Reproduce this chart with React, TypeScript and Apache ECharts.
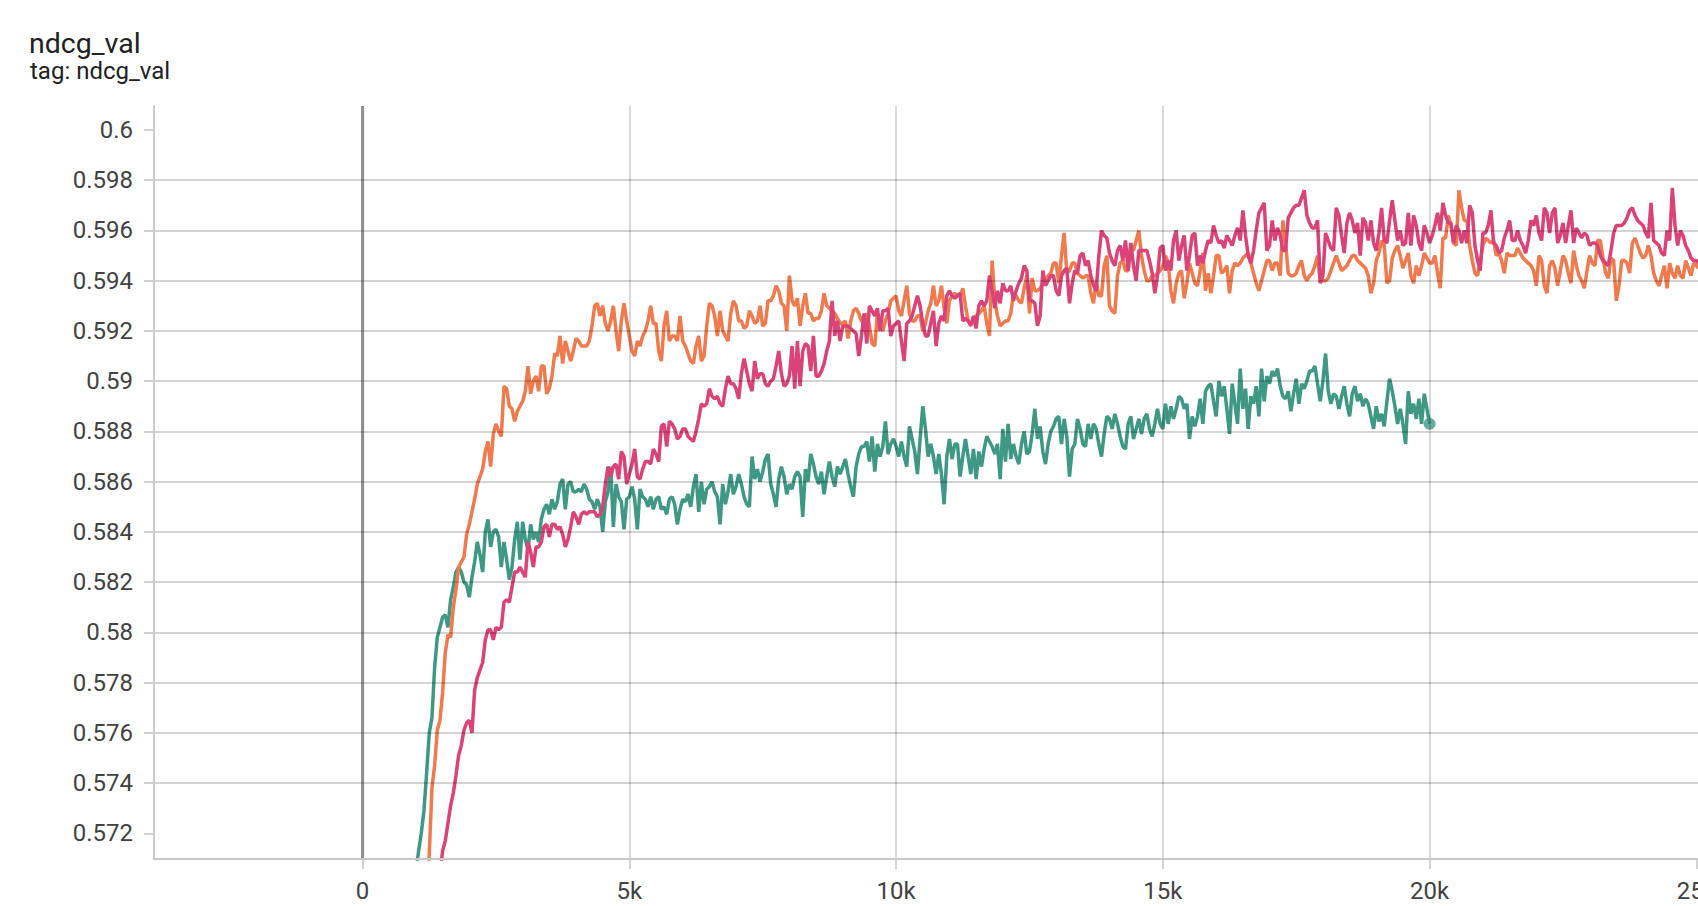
import React, { useEffect, useRef } from "react";
import * as echarts from "echarts";

const TITLE = "ndcg_val";
const SUBTITLE = "tag: ndcg_val";

const X_TICKS = [0, 5000, 10000, 15000, 20000, 25000];
const X_TICK_LABELS = ["0", "5k", "10k", "15k", "20k", "25k"];
const Y_TICKS = [0.572, 0.574, 0.576, 0.578, 0.58, 0.582, 0.584, 0.586, 0.588, 0.59, 0.592, 0.594, 0.596, 0.598, 0.6];
const X_MIN = -3910;
const X_MAX = 25031;
const Y_MIN = 0.570977;
const Y_MAX = 0.600955;
const ZERO_STEP = 0;

// teal run: step 1000 .. 20000, every 50 steps
const TEAL_START = 1000;
const TEAL_STEP = 50;
const TEAL_VALUES = [
  0.5705, 0.5713, 0.5720, 0.5729, 0.5744, 0.5760, 0.5766, 0.5786, 0.5798, 0.5802,
  0.5806, 0.5807, 0.5802, 0.5813, 0.5818, 0.5824, 0.5826, 0.5824, 0.5820, 0.5819,
  0.5814, 0.5822, 0.5828, 0.5836, 0.5831, 0.5824, 0.5840, 0.5845, 0.5834, 0.5840,
  0.5841, 0.5838, 0.5826, 0.5836, 0.5829, 0.5821, 0.5826, 0.5837, 0.5844, 0.5829,
  0.5844, 0.5837, 0.5833, 0.5843, 0.5837, 0.5840, 0.5836, 0.5845, 0.5849, 0.5851,
  0.5847, 0.5853, 0.5849, 0.5852, 0.5859, 0.5861, 0.5849, 0.5859, 0.5860, 0.5856,
  0.5856, 0.5857, 0.5856, 0.5859, 0.5857, 0.5853, 0.5852, 0.5849, 0.5853, 0.5850,
  0.5840, 0.5852, 0.5856, 0.5866, 0.5842, 0.5859, 0.5854, 0.5852, 0.5841, 0.5853,
  0.5854, 0.5858, 0.5853, 0.5841, 0.5857, 0.5854, 0.5853, 0.5850, 0.5854, 0.5849,
  0.5853, 0.5854, 0.5849, 0.5850, 0.5847, 0.5853, 0.5854, 0.5851, 0.5843, 0.5849,
  0.5853, 0.5852, 0.5855, 0.5850, 0.5858, 0.5863, 0.5848, 0.5860, 0.5851, 0.5857,
  0.5858, 0.5860, 0.5856, 0.5854, 0.5843, 0.5859, 0.5851, 0.5856, 0.5863, 0.5855,
  0.5858, 0.5863, 0.5859, 0.5854, 0.5851, 0.5850, 0.5870, 0.5861, 0.5865, 0.5860,
  0.5864, 0.5869, 0.5871, 0.5859, 0.5855, 0.5850, 0.5861, 0.5866, 0.5862, 0.5855,
  0.5859, 0.5857, 0.5862, 0.5864, 0.5862, 0.5846, 0.5865, 0.5860, 0.5871, 0.5867,
  0.5862, 0.5859, 0.5864, 0.5855, 0.5862, 0.5868, 0.5862, 0.5858, 0.5866, 0.5863,
  0.5866, 0.5869, 0.5863, 0.5858, 0.5854, 0.5866, 0.5871, 0.5874, 0.5874, 0.5876,
  0.5868, 0.5878, 0.5864, 0.5875, 0.5870, 0.5874, 0.5884, 0.5871, 0.5875, 0.5877,
  0.5874, 0.5870, 0.5876, 0.5870, 0.5866, 0.5882, 0.5877, 0.5872, 0.5863, 0.5877,
  0.5890, 0.5881, 0.5870, 0.5875, 0.5870, 0.5863, 0.5871, 0.5863, 0.5851, 0.5870,
  0.5877, 0.5869, 0.5875, 0.5875, 0.5862, 0.5870, 0.5877, 0.5870, 0.5863, 0.5873,
  0.5861, 0.5872, 0.5866, 0.5873, 0.5878, 0.5876, 0.5874, 0.5871, 0.5875, 0.5861,
  0.5881, 0.5868, 0.5883, 0.5869, 0.5875, 0.5870, 0.5867, 0.5875, 0.5880, 0.5871,
  0.5872, 0.5879, 0.5889, 0.5877, 0.5882, 0.5872, 0.5867, 0.5875, 0.5880, 0.5882,
  0.5885, 0.5886, 0.5875, 0.5885, 0.5878, 0.5862, 0.5873, 0.5875, 0.5885, 0.5881,
  0.5875, 0.5874, 0.5883, 0.5877, 0.5883, 0.5881, 0.5875, 0.5870, 0.5879, 0.5886,
  0.5885, 0.5881, 0.5887, 0.5883, 0.5878, 0.5874, 0.5873, 0.5883, 0.5886, 0.5877,
  0.5881, 0.5885, 0.5879, 0.5885, 0.5887, 0.5881, 0.5878, 0.5883, 0.5889, 0.5883,
  0.5881, 0.5891, 0.5883, 0.5890, 0.5885, 0.5889, 0.5894, 0.5893, 0.5889, 0.5891,
  0.5877, 0.5886, 0.5882, 0.5886, 0.5893, 0.5883, 0.5896, 0.5898, 0.5899, 0.5892,
  0.5886, 0.5900, 0.5894, 0.5898, 0.5889, 0.5879, 0.5899, 0.5891, 0.5883, 0.5905,
  0.5889, 0.5897, 0.5881, 0.5894, 0.5891, 0.5898, 0.5886, 0.5905, 0.5892, 0.5902,
  0.5899, 0.5904, 0.5902, 0.5905, 0.5898, 0.5894, 0.5893, 0.5896, 0.5888, 0.5895,
  0.5901, 0.5891, 0.5899, 0.5897, 0.5900, 0.5904, 0.5904, 0.5906, 0.5899, 0.5892,
  0.5900, 0.5911, 0.5896, 0.5891, 0.5895, 0.5894, 0.5889, 0.5894, 0.5898, 0.5891,
  0.5886, 0.5895, 0.5898, 0.5892, 0.5895, 0.5890, 0.5893, 0.5891, 0.5886, 0.5881,
  0.5890, 0.5884, 0.5887, 0.5882, 0.5892, 0.5901, 0.5896, 0.5890, 0.5883, 0.5889,
  0.5883, 0.5875, 0.5896, 0.5887, 0.5891, 0.5885, 0.5893, 0.5883, 0.5895, 0.5889,
  0.5883,
];

// orange run: step 1200 .. 25100, every 50 steps
const ORANGE_START = 1200;
const ORANGE_STEP = 50;
const ORANGE_VALUES = [
  0.5690, 0.5712, 0.5738, 0.5747, 0.5761, 0.5765, 0.5776, 0.5792, 0.5799, 0.5798, 0.5810, 0.5817, 0.5826, 0.5828, 0.5830, 0.5839,
  0.5843, 0.5848, 0.5853, 0.5859, 0.5862, 0.5865, 0.5872, 0.5876, 0.5866, 0.5879, 0.5883, 0.5880, 0.5878, 0.5898, 0.5897, 0.5890, 0.5889, 0.5884, 0.5888, 0.5890,
  0.5892, 0.5896, 0.5906, 0.5895, 0.5900, 0.5902, 0.5896, 0.5906, 0.5906, 0.5895, 0.5897, 0.5902, 0.5911, 0.5910, 0.5918, 0.5907, 0.5916, 0.5912, 0.5908, 0.5912,
  0.5917, 0.5916, 0.5914, 0.5914, 0.5914, 0.5916, 0.5922, 0.5930, 0.5931, 0.5926, 0.5930, 0.5923, 0.5920, 0.5924, 0.5930, 0.5920, 0.5912, 0.5924, 0.5931, 0.5924,
  0.5918, 0.5912, 0.5910, 0.5916, 0.5914, 0.5918, 0.5920, 0.5924, 0.5930, 0.5923, 0.5923, 0.5912, 0.5908, 0.5922, 0.5928, 0.5916, 0.5918, 0.5918, 0.5916, 0.5926,
  0.5916, 0.5914, 0.5911, 0.5908, 0.5907, 0.5914, 0.5918, 0.5908, 0.5910, 0.5922, 0.5931, 0.5930, 0.5926, 0.5918, 0.5928, 0.5920, 0.5918, 0.5916, 0.5927, 0.5932,
  0.5930, 0.5924, 0.5924, 0.5921, 0.5922, 0.5928, 0.5926, 0.5923, 0.5924, 0.5930, 0.5922, 0.5923, 0.5932, 0.5932, 0.5934, 0.5938, 0.5936, 0.5931, 0.5930, 0.5920,
  0.5942, 0.5932, 0.5930, 0.5933, 0.5922, 0.5930, 0.5935, 0.5927, 0.5927, 0.5924, 0.5925, 0.5925, 0.5928, 0.5935, 0.5930, 0.5929, 0.5928, 0.5927, 0.5925, 0.5923,
  0.5923, 0.5924, 0.5917, 0.5924, 0.5928, 0.5929, 0.5927, 0.5924, 0.5924, 0.5927, 0.5922, 0.5915, 0.5914, 0.5927, 0.5923, 0.5920, 0.5924, 0.5927, 0.5932, 0.5933,
  0.5934, 0.5928, 0.5926, 0.5932, 0.5938, 0.5927, 0.5924, 0.5924, 0.5926, 0.5926, 0.5920, 0.5923, 0.5928, 0.5931, 0.5938, 0.5930, 0.5932, 0.5938, 0.5929, 0.5923,
  0.5932, 0.5934, 0.5935, 0.5934, 0.5934, 0.5937, 0.5930, 0.5924, 0.5923, 0.5924, 0.5926, 0.5927, 0.5928, 0.5930, 0.5923, 0.5918, 0.5948, 0.5932, 0.5926, 0.5922,
  0.5923, 0.5924, 0.5924, 0.5927, 0.5935, 0.5934, 0.5932, 0.5931, 0.5937, 0.5942, 0.5927, 0.5941, 0.5936, 0.5936, 0.5937, 0.5939, 0.5940, 0.5942, 0.5943, 0.5947,
  0.5947, 0.5939, 0.5950, 0.5959, 0.5943, 0.5944, 0.5947, 0.5947, 0.5943, 0.5942, 0.5941, 0.5942, 0.5942, 0.5935, 0.5931, 0.5940, 0.5934, 0.5934, 0.5946, 0.5950,
  0.5930, 0.5928, 0.5927, 0.5942, 0.5947, 0.5948, 0.5944, 0.5944, 0.5954, 0.5952, 0.5956, 0.5960, 0.5950, 0.5944, 0.5940, 0.5940, 0.5942, 0.5942, 0.5943, 0.5944,
  0.5946, 0.5950, 0.5947, 0.5936, 0.5931, 0.5939, 0.5943, 0.5944, 0.5933, 0.5939, 0.5947, 0.5943, 0.5939, 0.5938, 0.5944, 0.5951, 0.5936, 0.5943, 0.5935, 0.5942,
  0.5950, 0.5950, 0.5943, 0.5944, 0.5946, 0.5935, 0.5944, 0.5947, 0.5946, 0.5947, 0.5949, 0.5950, 0.5951, 0.5947, 0.5943, 0.5939, 0.5936, 0.5940, 0.5944, 0.5948,
  0.5948, 0.5944, 0.5947, 0.5947, 0.5942, 0.5964, 0.5955, 0.5943, 0.5942, 0.5942, 0.5943, 0.5946, 0.5948, 0.5942, 0.5940, 0.5942, 0.5943, 0.5946, 0.5950, 0.5940,
  0.5940, 0.5940, 0.5941, 0.5944, 0.5947, 0.5950, 0.5947, 0.5944, 0.5945, 0.5946, 0.5948, 0.5950, 0.5950, 0.5948, 0.5947, 0.5946, 0.5945, 0.5942, 0.5935, 0.5939,
  0.5948, 0.5951, 0.5956, 0.5954, 0.5939, 0.5940, 0.5949, 0.5952, 0.5954, 0.5950, 0.5945, 0.5948, 0.5951, 0.5942, 0.5939, 0.5946, 0.5942, 0.5946, 0.5951, 0.5949,
  0.5947, 0.5947, 0.5950, 0.5943, 0.5937, 0.5957, 0.5957, 0.5966, 0.5962, 0.5955, 0.5954, 0.5976, 0.5969, 0.5964, 0.5964, 0.5954, 0.5948, 0.5943, 0.5942, 0.5948,
  0.5954, 0.5957, 0.5956, 0.5955, 0.5956, 0.5950, 0.5951, 0.5948, 0.5943, 0.5951, 0.5950, 0.5950, 0.5950, 0.5953, 0.5951, 0.5949, 0.5948, 0.5947, 0.5946, 0.5944,
  0.5938, 0.5950, 0.5948, 0.5938, 0.5935, 0.5946, 0.5948, 0.5945, 0.5938, 0.5944, 0.5950, 0.5948, 0.5943, 0.5939, 0.5952, 0.5946, 0.5942, 0.5940, 0.5937, 0.5944,
  0.5950, 0.5947, 0.5946, 0.5956, 0.5956, 0.5949, 0.5943, 0.5941, 0.5949, 0.5948, 0.5932, 0.5938, 0.5948, 0.5948, 0.5947, 0.5943, 0.5955, 0.5957, 0.5954, 0.5951,
  0.5949, 0.5950, 0.5954, 0.5950, 0.5943, 0.5940, 0.5938, 0.5942, 0.5946, 0.5937, 0.5947, 0.5943, 0.5941, 0.5946, 0.5942, 0.5941, 0.5948, 0.5945, 0.5942, 0.5947,
  0.5946, 0.5945, 0.5944,
];

// pink run: step 1400 .. 25100, every 50 steps
const PINK_START = 1400;
const PINK_STEP = 50;
const PINK_VALUES = [
  0.5700, 0.5704, 0.5713, 0.5717, 0.5724, 0.5731, 0.5736, 0.5743, 0.5751, 0.5755, 0.5761, 0.5764,
  0.5765, 0.5760, 0.5777, 0.5782, 0.5785, 0.5788, 0.5797, 0.5801, 0.5801, 0.5797, 0.5802, 0.5801, 0.5802, 0.5812, 0.5813, 0.5812, 0.5818, 0.5824, 0.5824, 0.5826,
  0.5824, 0.5822, 0.5836, 0.5832, 0.5826, 0.5834, 0.5834, 0.5836, 0.5842, 0.5843, 0.5838, 0.5843, 0.5843, 0.5841, 0.5842, 0.5839, 0.5834, 0.5837, 0.5842, 0.5848,
  0.5846, 0.5843, 0.5847, 0.5848, 0.5847, 0.5848, 0.5848, 0.5848, 0.5846, 0.5847, 0.5850, 0.5859, 0.5866, 0.5862, 0.5866, 0.5867, 0.5861, 0.5872, 0.5870, 0.5859,
  0.5863, 0.5867, 0.5873, 0.5862, 0.5861, 0.5865, 0.5868, 0.5868, 0.5867, 0.5873, 0.5871, 0.5868, 0.5882, 0.5883, 0.5874, 0.5884, 0.5883, 0.5881, 0.5877, 0.5878,
  0.5881, 0.5881, 0.5878, 0.5877, 0.5876, 0.5880, 0.5885, 0.5891, 0.5890, 0.5891, 0.5897, 0.5894, 0.5893, 0.5894, 0.5891, 0.5890, 0.5897, 0.5902, 0.5899, 0.5899,
  0.5897, 0.5893, 0.5903, 0.5909, 0.5904, 0.5899, 0.5896, 0.5908, 0.5901, 0.5903, 0.5903, 0.5899, 0.5898, 0.5900, 0.5901, 0.5906, 0.5912, 0.5903, 0.5898, 0.5899,
  0.5902, 0.5914, 0.5897, 0.5916, 0.5898, 0.5912, 0.5915, 0.5914, 0.5904, 0.5918, 0.5902, 0.5902, 0.5904, 0.5907, 0.5912, 0.5916, 0.5932, 0.5918, 0.5924, 0.5916,
  0.5922, 0.5922, 0.5922, 0.5921, 0.5920, 0.5919, 0.5910, 0.5918, 0.5927, 0.5915, 0.5930, 0.5928, 0.5926, 0.5929, 0.5920, 0.5928, 0.5928, 0.5929, 0.5918, 0.5922,
  0.5923, 0.5924, 0.5916, 0.5908, 0.5923, 0.5924, 0.5926, 0.5930, 0.5934, 0.5930, 0.5923, 0.5918, 0.5918, 0.5923, 0.5928, 0.5914, 0.5923, 0.5926, 0.5924, 0.5934,
  0.5936, 0.5934, 0.5933, 0.5934, 0.5935, 0.5924, 0.5925, 0.5924, 0.5922, 0.5926, 0.5921, 0.5930, 0.5932, 0.5930, 0.5932, 0.5942, 0.5936, 0.5929, 0.5936, 0.5931,
  0.5939, 0.5936, 0.5936, 0.5938, 0.5932, 0.5936, 0.5939, 0.5941, 0.5946, 0.5944, 0.5932, 0.5932, 0.5931, 0.5922, 0.5926, 0.5944, 0.5938, 0.5940, 0.5942, 0.5942,
  0.5936, 0.5934, 0.5942, 0.5944, 0.5945, 0.5931, 0.5939, 0.5944, 0.5943, 0.5950, 0.5951, 0.5946, 0.5948, 0.5942, 0.5938, 0.5936, 0.5950, 0.5960, 0.5958, 0.5957,
  0.5951, 0.5948, 0.5946, 0.5952, 0.5954, 0.5948, 0.5956, 0.5944, 0.5955, 0.5946, 0.5940, 0.5952, 0.5952, 0.5952, 0.5952, 0.5948, 0.5943, 0.5935, 0.5942, 0.5953,
  0.5954, 0.5944, 0.5948, 0.5944, 0.5956, 0.5960, 0.5948, 0.5954, 0.5958, 0.5944, 0.5950, 0.5958, 0.5959, 0.5946, 0.5950, 0.5947, 0.5952, 0.5956, 0.5955, 0.5962,
  0.5958, 0.5955, 0.5956, 0.5953, 0.5958, 0.5956, 0.5954, 0.5958, 0.5961, 0.5956, 0.5968, 0.5958, 0.5950, 0.5947, 0.5952, 0.5960, 0.5967, 0.5969, 0.5971, 0.5952,
  0.5954, 0.5964, 0.5956, 0.5961, 0.5958, 0.5952, 0.5952, 0.5965, 0.5967, 0.5969, 0.5970, 0.5970, 0.5973, 0.5976, 0.5966, 0.5963, 0.5961, 0.5961, 0.5964, 0.5939,
  0.5942, 0.5959, 0.5956, 0.5953, 0.5952, 0.5969, 0.5966, 0.5958, 0.5951, 0.5963, 0.5967, 0.5964, 0.5959, 0.5963, 0.5950, 0.5965, 0.5963, 0.5956, 0.5964, 0.5955,
  0.5952, 0.5959, 0.5969, 0.5956, 0.5955, 0.5964, 0.5972, 0.5964, 0.5956, 0.5960, 0.5954, 0.5955, 0.5967, 0.5954, 0.5966, 0.5962, 0.5955, 0.5952, 0.5962, 0.5959,
  0.5955, 0.5958, 0.5962, 0.5967, 0.5960, 0.5971, 0.5966, 0.5963, 0.5963, 0.5955, 0.5962, 0.5960, 0.5955, 0.5960, 0.5955, 0.5970, 0.5967, 0.5954, 0.5948, 0.5944,
  0.5959, 0.5959, 0.5962, 0.5968, 0.5955, 0.5954, 0.5951, 0.5952, 0.5957, 0.5960, 0.5964, 0.5956, 0.5956, 0.5960, 0.5956, 0.5954, 0.5951, 0.5956, 0.5964, 0.5962,
  0.5966, 0.5959, 0.5956, 0.5969, 0.5967, 0.5959, 0.5967, 0.5969, 0.5955, 0.5958, 0.5963, 0.5955, 0.5962, 0.5968, 0.5955, 0.5961, 0.5959, 0.5957, 0.5959, 0.5958,
  0.5954, 0.5955, 0.5955, 0.5954, 0.5950, 0.5948, 0.5947, 0.5946, 0.5952, 0.5959, 0.5962, 0.5962, 0.5962, 0.5963, 0.5965, 0.5968, 0.5969, 0.5966, 0.5964, 0.5963,
  0.5962, 0.5959, 0.5957, 0.5971, 0.5956, 0.5955, 0.5954, 0.5951, 0.5950, 0.5960, 0.5956, 0.5977, 0.5962, 0.5954, 0.5960, 0.5958, 0.5954, 0.5952, 0.5949, 0.5948,
  0.5948, 0.5947, 0.5947,
];

const TEAL = "#3f9884";
const ORANGE = "#ef7a4e";
const PINK = "#da4377";
const LINE_WIDTH = 3.5;

function toPairs(start: number, step: number, values: number[]): number[][] {
  return values.map((v, i) => [start + i * step, v]);
}

export default function App() {
  const ref = useRef<HTMLDivElement>(null);

  useEffect(() => {
    if (!ref.current) return;
    const chart = echarts.init(ref.current, null, { renderer: "svg" });
    const teal = toPairs(TEAL_START, TEAL_STEP, TEAL_VALUES);
    const orange = toPairs(ORANGE_START, ORANGE_STEP, ORANGE_VALUES);
    const pink = toPairs(PINK_START, PINK_STEP, PINK_VALUES);
    const lastTeal = teal[teal.length - 1];

    const xLabel = (v: number) => {
      const idx = X_TICKS.findIndex((t) => Math.abs(t - v) < 1e-6);
      return idx >= 0 ? X_TICK_LABELS[idx] : "";
    };
    const yLabel = (v: number) => {
      const idx = Y_TICKS.findIndex((t) => Math.abs(t - v) < 1e-9);
      return idx >= 0 ? String(Y_TICKS[idx]) : "";
    };

    const labelFont = { fontSize: 24, fontFamily: "Roboto", color: "#424242" };

    chart.setOption({
      animation: false,
      backgroundColor: "#ffffff",
      grid: { left: 154, top: 106, right: 0, bottom: 47, outerBoundsMode: "none", containLabel: false },
      graphic: [
        {
          type: "text",
          x: 29,
          y: 29,
          style: { text: TITLE, fontSize: 28.5, fontFamily: "Roboto", fill: "#212121", verticalAlign: "top" },
        },
        {
          type: "text",
          x: 30,
          y: 59,
          style: { text: SUBTITLE, fontSize: 24, fontFamily: "Roboto", fill: "#212121", verticalAlign: "top" },
        },
      ],
      xAxis: {
        type: "value",
        min: X_MIN,
        max: X_MAX,
        minInterval: 5000,
        maxInterval: 5000,
        z: 5,
        axisLine: { show: true, onZero: false, lineStyle: { color: "#c8c8c8", width: 2 } },
        axisTick: { show: true, length: 10, customValues: X_TICKS, lineStyle: { color: "#c4c4c4", width: 1.5 } },
        axisLabel: { ...labelFont, margin: 20, formatter: xLabel },
        splitLine: {
          show: true,
          showMinLine: false,
          showMaxLine: false,
          lineStyle: { color: "rgba(0,0,0,0.2)", width: 1.5 },
        },
      },
      yAxis: {
        type: "value",
        min: Y_MIN,
        max: Y_MAX,
        minInterval: 0.002,
        maxInterval: 0.002,
        z: 5,
        axisLine: { show: true, onZero: false, lineStyle: { color: "#cccccc", width: 2 } },
        axisTick: { show: true, length: 10, customValues: Y_TICKS, lineStyle: { color: "#d0d0d0", width: 2 } },
        axisLabel: { ...labelFont, margin: 21, formatter: yLabel },
        splitLine: {
          show: true,
          showMinLine: false,
          showMaxLine: false,
          lineStyle: { color: "rgba(0,0,0,0.17)", width: 2 },
        },
      },
      series: [
        {
          type: "line",
          data: [
            [ZERO_STEP, Y_MIN],
            [ZERO_STEP, Y_MAX],
          ],
          symbol: "none",
          showSymbol: false,
          silent: true,
          lineStyle: { color: "#8e8e8e", width: 3 },
          itemStyle: { color: "#8e8e8e" },
          z: 1,
        },
        {
          type: "line",
          data: teal,
          symbol: "none",
          showSymbol: false,
          lineStyle: { color: TEAL, width: LINE_WIDTH },
          itemStyle: { color: TEAL },
          z: 2,
        },
        {
          type: "line",
          data: orange,
          symbol: "none",
          showSymbol: false,
          lineStyle: { color: ORANGE, width: LINE_WIDTH },
          itemStyle: { color: ORANGE },
          z: 2,
        },
        {
          type: "line",
          data: pink,
          symbol: "none",
          showSymbol: false,
          lineStyle: { color: PINK, width: LINE_WIDTH },
          itemStyle: { color: PINK },
          z: 2,
        },
        {
          type: "scatter",
          data: [lastTeal],
          symbol: "circle",
          symbolSize: 12,
          itemStyle: { color: TEAL },
          z: 3,
        },
      ],
    });

    return () => {
      chart.dispose();
    };
  }, []);

  return <div ref={ref} style={{ position: "absolute", left: 0, top: 0, width: 1698, height: 906 }} />;
}
